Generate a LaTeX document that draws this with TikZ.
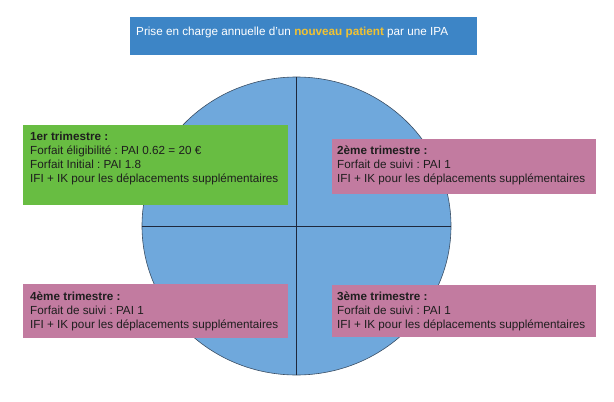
\documentclass[tikz,border=0pt]{standalone}
\usepackage{fontspec}
\setmainfont{Liberation Sans}
\usetikzlibrary{shapes.geometric}
\frenchspacing
\definecolor{titleblue}{RGB}{61,133,198}
\definecolor{titleyel}{RGB}{241,194,50}
\definecolor{circblue}{RGB}{111,168,220}
\definecolor{circedge}{RGB}{58,78,100}
\definecolor{axisline}{RGB}{30,40,60}
\definecolor{qgreen}{RGB}{104,189,66}
\definecolor{qpink}{RGB}{194,123,160}
\definecolor{qtext}{RGB}{30,30,30}
\newcommand{\topstrut}{\rule{0pt}{10pt}}
\tikzset{
  panel/.style={draw=none, inner sep=0pt, anchor=north west},
  greenpanel/.style={panel, fill=qgreen},
  pinkpanel/.style={panel, fill=qpink},
  titlepanel/.style={panel, fill=titleblue},
  paneltext/.style={inner sep=0pt, anchor=north west, align=left,
     font=\fontsize{11.7}{14}\selectfont\frenchspacing, text=qtext},
  titletext/.style={paneltext, text=white},
  axis/.style={draw=axisline, line width=0.8pt}
}
\begin{document}
\begin{tikzpicture}[x=1pt, y=-1pt]
\useasboundingbox (0,0) rectangle (614,402);
% circle
\node[ellipse, draw=circedge, line width=0.6pt, fill=circblue,
      minimum width=309pt, minimum height=298pt, inner sep=0pt] (disc) at (296.5,226) {};
\coordinate (top) at (disc.north);
\coordinate (bot) at (disc.south);
\coordinate (lft) at (disc.west);
\coordinate (rgt) at (disc.east);
\draw[axis] (top) -- (bot);
\draw[axis] (lft) -- (rgt);
% title
\node[titlepanel, minimum width=347pt, minimum height=38pt] (titlebox) at (130,17) {};
\node[titletext] (title) at (136,25) {\topstrut Prise en charge annuelle d'un \textcolor{titleyel}{\bfseries nouveau patient} par une IPA};
% quarter 1
\node[greenpanel, minimum width=265pt, minimum height=80pt] (q1box) at (23,125) {};
\node[paneltext] (q1) at (30,130.7) {\topstrut\textbf{1er trimestre :}\\
Forfait éligibilité : PAI 0.62 = 20 €\\
Forfait Initial : PAI 1.8\\
IFI + IK pour les déplacements supplémentaires};
% quarter 2
\node[pinkpanel, minimum width=264pt, minimum height=54.5pt] (q2box) at (331.5,139) {};
\node[paneltext] (q2) at (337,144.3) {\topstrut\textbf{2ème trimestre :}\\
Forfait de suivi : PAI 1\\
IFI + IK pour les déplacements supplémentaires};
% quarter 3
\node[pinkpanel, minimum width=264pt, minimum height=52pt] (q3box) at (331.5,284.5) {};
\node[paneltext] (q3) at (337,290) {\topstrut\textbf{3ème trimestre :}\\
Forfait de suivi : PAI 1\\
IFI + IK pour les déplacements supplémentaires};
% quarter 4
\node[pinkpanel, minimum width=265pt, minimum height=54pt] (q4box) at (23,284) {};
\node[paneltext] (q4) at (30,290) {\topstrut\textbf{4ème trimestre :}\\
Forfait de suivi : PAI 1\\
IFI + IK pour les déplacements supplémentaires};
\end{tikzpicture}
\end{document}
